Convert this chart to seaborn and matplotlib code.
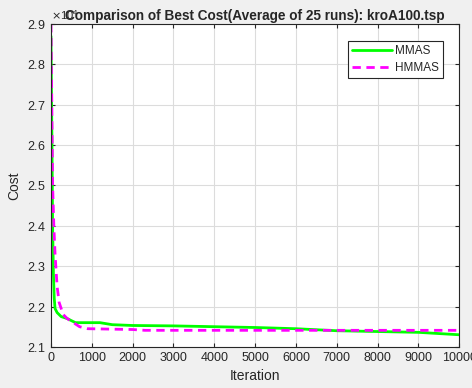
import pandas as pd
import matplotlib.pyplot as plt
import seaborn as sns
from matplotlib.ticker import ScalarFormatter

# Average best cost (cost units)
mmas_iter = [0, 10, 25, 40, 60, 80, 100, 150, 250, 400, 600, 1200, 1500, 2000,
             3000, 4000, 5000, 6000, 7000, 8000, 9000, 10000]
mmas_cost = [28700, 27500, 26000, 24000, 22800, 22200, 21950, 21850, 21750, 21700,
             21600, 21600, 21550, 21530, 21520, 21500, 21480, 21450, 21400, 21380,
             21360, 21300]

hmmas_iter = [0, 20, 40, 70, 100, 150, 200, 300, 400, 550, 700, 900, 2000, 2300,
              5000, 10000]
hmmas_cost = [29000, 27000, 25000, 24000, 23300, 22500, 22100, 21800, 21700, 21600,
              21500, 21450, 21430, 21410, 21410, 21410]

df = pd.concat([
    pd.DataFrame({"Iteration": mmas_iter, "Cost": mmas_cost, "Algorithm": "MMAS"}),
    pd.DataFrame({"Iteration": hmmas_iter, "Cost": hmmas_cost, "Algorithm": "HMMAS"}),
])

sns.set_style("ticks")
plt.rcParams["font.family"] = ["Liberation Sans", "DejaVu Sans"]

fig = plt.figure(figsize=(4.72, 3.88), dpi=100, facecolor="#f0f0f0")
ax = fig.add_axes([0.108, 0.106, 0.865, 0.832])

sns.lineplot(data=df, x="Iteration", y="Cost", hue="Algorithm", style="Algorithm",
             palette={"MMAS": "#00ff00", "HMMAS": "#ff00ff"},
             dashes={"MMAS": "", "HMMAS": (3, 2)}, linewidth=2,
             estimator=None, ax=ax)

ax.set_xlim(0, 10000)
ax.set_ylim(21000, 29000)
ax.set_xticks(range(0, 10001, 1000))
ax.set_yticks(range(21000, 29001, 1000))

fmt = ScalarFormatter(useMathText=True)
fmt.set_powerlimits((0, 0))
ax.yaxis.set_major_formatter(fmt)
ax.yaxis.get_offset_text().set_fontsize(8)
ax.yaxis.get_offset_text().set_color("#404040")

ax.grid(True, color="#dcdcdc", linewidth=0.8)
ax.tick_params(direction="in", top=True, right=True, labelsize=9, colors="#262626",
               length=3)
for s in ax.spines.values():
    s.set_color("#262626")
    s.set_linewidth(0.8)

ax.set_xlabel("Iteration", fontsize=10, color="#262626")
ax.set_ylabel("Cost", fontsize=10, color="#262626")
ax.set_title("Comparison of Best Cost(Average of 25 runs): kroA100.tsp",
             fontsize=9.8, fontweight="bold", y=1.0, pad=3)

leg = ax.legend(loc="upper right", fontsize=8.5, handlelength=3.4, fancybox=False,
                framealpha=1, edgecolor="#262626", borderpad=0.35, labelspacing=0.45,
                handletextpad=0.2, borderaxespad=1.4)
leg.get_frame().set_linewidth(0.8)

fig.savefig("out.png", dpi=100, facecolor=fig.get_facecolor())
